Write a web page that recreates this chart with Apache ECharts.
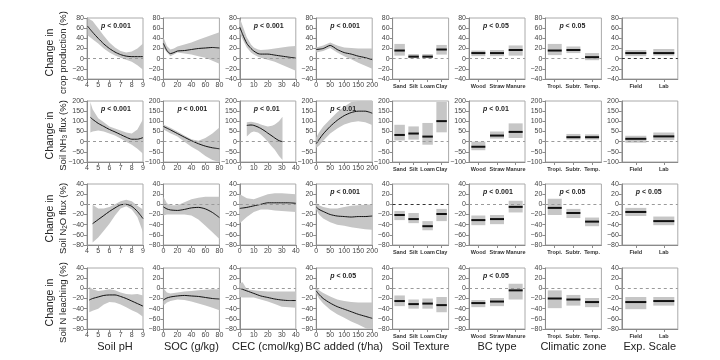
<!DOCTYPE html>
<html><head><meta charset="utf-8">
<script src="https://cdn.jsdelivr.net/npm/echarts@6/dist/echarts.min.js"></script>
<style>html,body{margin:0;padding:0;background:#fff}#c{width:720px;height:360px}</style>
</head><body><div id="c"></div><script>
// ---------- categories / labels ----------
const textureCats = ['Sand','Silt','Loam','Clay'];
const bcTypeCats = ['Wood','Straw','Manure'];
const climateCats = ['Tropi.','Subtr.','Temp.'];
const scaleCats = ['Field','Lab'];
const xNames = ['Soil pH','SOC (g/kg)','CEC (cmol/kg)','BC added (t/ha)','Soil Texture','BC type','Climatic zone','Exp. Scale'];
const rowLabels = ['crop production (%)','Soil NH{s|3} flux (%)','Soil N{s|2}O flux (%)','Soil N leaching (%)'];
const yTicks = [[-40,80,20],[-100,200,50],[-80,40,20],[-80,40,20]];
const pLabels = [
  ['< 0.001','','< 0.001','< 0.001','','< 0.05','< 0.05',''],
  ['< 0.001','< 0.001','< 0.01','< 0.01','','< 0.01','',''],
  ['','','','< 0.001','','< 0.001','< 0.05','< 0.05'],
  ['','','','< 0.05','','< 0.05','','']
];

// ---------- Row 1: crop production ----------
const cropPH_x = [4.05,4.5,5,5.5,6,6.5,7,7.5,8,8.5,9];
const cropPH_mean = [64,52,40,29,20,13,8,5,4,4,4];
const cropPH_lo = [46,38,30,20,12,6,2,-2,-6,-13,-22];
const cropPH_hi = [80,74,60,45,32,22,15,12,14,20,30];
const cropSOC_x = [0,5,10,15,20,30,40,50,60,70,80];
const cropSOC_mean = [30,16,10,12,15,16,18,20,21,22,21];
const cropSOC_lo = [22,12,5,8,12,10,8,5,2,-4,-10];
const cropSOC_hi = [42,25,18,20,24,28,32,37,42,47,52];
const cropCEC_x = [0,2,5,8,10,13,15,20,25,30,35,40];
const cropCEC_mean = [62,48,30,20,15,10,9,9,7,5,3,1];
const cropCEC_lo = [50,38,22,12,8,4,2,-2,-6,-12,-18,-24];
const cropCEC_hi = [80,65,42,28,22,18,17,18,20,22,24,25];
const cropBC_x = [0,25,50,75,100,125,150,175,200];
const cropBC_mean = [18,20,26,18,12,9,5,2,-2];
const cropBC_lo = [12,15,21,12,5,-1,-8,-14,-20];
const cropBC_hi = [22,26,32,26,22,21,20,20,20];
const cropTex_mean = [16,4,4,18], cropTex_lo = [6,1,1,8], cropTex_hi = [29,9,9,27];
const cropBCT_mean = [11,11,17], cropBCT_lo = [5,5,6], cropBCT_hi = [16,17,26];
const cropClim_mean = [16,17,3], cropClim_lo = [7,11,-3], cropClim_hi = [29,24,11];
const cropScale_mean = [11,11], cropScale_lo = [5,6], cropScale_hi = [17,19];

// ---------- Row 2: NH3 flux ----------
const nh3PH_x = [4.3,4.5,5,5.5,6,6.5,7,7.5,8,8.5,9];
const nh3PH_mean = [120,110,90,75,60,48,35,22,12,12,20];
const nh3PH_lo = [45,50,55,50,40,30,15,0,-15,-35,-60];
const nh3PH_hi = [195,160,115,95,75,65,55,45,40,60,110];
const nh3SOC_x = [0,10,20,30,40,50,60,70,80];
const nh3SOC_mean = [75,58,40,22,5,-10,-22,-30,-35];
const nh3SOC_lo = [60,42,25,0,-25,-45,-70,-90,-100];
const nh3SOC_hi = [85,68,50,30,12,5,18,40,70];
const nh3CEC_x = [5,8,10,13,15,18,20,23,25,28,30.5];
const nh3CEC_mean = [80,82,80,72,65,52,42,28,18,5,0];
const nh3CEC_lo = [25,45,50,45,35,15,0,-25,-40,-70,-90];
const nh3CEC_hi = [95,98,95,90,85,78,75,78,85,100,123];
const nh3BC_x = [0,10,25,50,75,100,125,150,175,200];
const nh3BC_mean = [-10,10,38,75,105,128,143,150,150,140];
const nh3BC_lo = [-30,-20,5,40,65,85,95,100,95,82];
const nh3BC_hi = [20,45,75,110,145,172,195,200,200,200];
const nh3Tex_mean = [33,40,25,101], nh3Tex_lo = [6,10,-15,46], nh3Tex_hi = [83,75,92,195];
const nh3BCT_mean = [-25,30,48], nh3BCT_lo = [-42,15,18], nh3BCT_hi = [0,50,90];
const nh3Clim_mean = [null,22,22], nh3Clim_lo = [null,10,10], nh3Clim_hi = [null,38,36];
const nh3Scale_mean = [14,26], nh3Scale_lo = [-5,8], nh3Scale_hi = [29,45];

// ---------- Row 3: N2O flux ----------
const n2oPH_x = [4.5,5,5.5,6,6.5,7,7.5,8,8.5,9];
const n2oPH_mean = [-38,-30,-22,-14,-7,-1,0,-4,-14,-28];
const n2oPH_lo = [-75,-65,-52,-38,-22,-8,-4,-10,-25,-55];
const n2oPH_hi = [-1,-8,-8,-5,0,6,9,6,-3,-10];
const n2oSOC_x = [0,5,10,20,30,40,50,60,70,80];
const n2oSOC_mean = [-5,-9,-11,-12,-10,-7,-6,-9,-16,-26];
const n2oSOC_lo = [-22,-20,-20,-20,-20,-22,-30,-42,-55,-68];
const n2oSOC_hi = [15,2,-2,-2,4,10,13,15,15,15];
const n2oCEC_x = [0,5,10,15,20,25,30,35,40];
const n2oCEC_mean = [-8,-6,-3,0,3,3,3,3,2];
const n2oCEC_lo = [-37,-25,-15,-10,-10,-12,-13,-14,-15];
const n2oCEC_hi = [20,12,10,15,20,22,22,21,20];
const n2oBC_x = [0,10,25,50,75,100,125,150,175,200];
const n2oBC_mean = [-5,-10,-14,-20,-23,-24,-25,-24,-24,-23];
const n2oBC_lo = [-10,-20,-28,-35,-40,-42,-45,-47,-49,-50];
const n2oBC_hi = [3,-2,-5,-8,-8,-5,-3,-2,-1,0];
const n2oTex_mean = [-21,-29,-43,-19], n2oTex_lo = [-31,-37,-51,-33], n2oTex_hi = [-13,-17,-33,-9];
const n2oBCT_mean = [-31,-29,-5], n2oBCT_lo = [-41,-39,-16], n2oBCT_hi = [-22,-21,7];
const n2oClim_mean = [-7,-17,-34], n2oClim_lo = [-21,-27,-43], n2oClim_hi = [11,-9,-26];
const n2oScale_mean = [-15,-33], n2oScale_lo = [-23,-41], n2oScale_hi = [-7,-24];

// ---------- Row 4: N leaching ----------
const lchPH_x = [4.2,4.5,5,5.5,6,6.5,7,7.5,8,8.5,9];
const lchPH_mean = [-23,-20,-17,-14,-13,-13,-16,-20,-25,-30,-35];
const lchPH_lo = [-47,-44,-40,-32,-27,-28,-32,-37,-43,-48,-56];
const lchPH_hi = [3,-2,-5,-4,-2,-4,-8,-11,-12,-11,-14];
const lchSOC_x = [0,5,10,20,30,40,50,60,70,80];
const lchSOC_mean = [-23,-19,-17,-15,-14,-15,-16,-18,-20,-21];
const lchSOC_lo = [-34,-28,-25,-22,-23,-26,-30,-34,-38,-43];
const lchSOC_hi = [0,-8,-10,-8,-6,-5,-4,-3,-2,-2];
const lchCEC_x = [0,2,5,10,15,20,25,30,35,40];
const lchCEC_mean = [0,-2,-5,-10,-15,-18,-21,-23,-24,-24];
const lchCEC_lo = [-17,-18,-18,-18,-22,-26,-31,-36,-37,-38];
const lchCEC_hi = [10,12,-2,-4,-5,-6,-6,-6,-6,-6];
const lchBC_x = [0,10,25,50,75,100,125,150,175,200];
const lchBC_mean = [-5,-12,-20,-29,-36,-41,-46,-51,-55,-59];
const lchBC_lo = [-10,-20,-30,-42,-51,-58,-65,-71,-78,-85];
const lchBC_hi = [2,-4,-9,-16,-22,-25,-27,-28,-28,-28];
const lchTex_mean = [-25,-31,-30,-33], lchTex_lo = [-35,-40,-40,-47], lchTex_hi = [-14,-22,-20,-17];
const lchBCT_mean = [-29,-26,-4], lchBCT_lo = [-37,-35,-22], lchBCT_hi = [-23,-19,9];
const lchClim_mean = [-20,-22,-27], lchClim_lo = [-39,-34,-37], lchClim_hi = [-4,-13,-19];
const lchScale_mean = [-27,-25], lchScale_lo = [-41,-34], lchScale_hi = [-17,-17];

// ---------- assemble ----------
const contData = [
  [[cropPH_x,cropPH_mean,cropPH_lo,cropPH_hi],[cropSOC_x,cropSOC_mean,cropSOC_lo,cropSOC_hi],[cropCEC_x,cropCEC_mean,cropCEC_lo,cropCEC_hi],[cropBC_x,cropBC_mean,cropBC_lo,cropBC_hi]],
  [[nh3PH_x,nh3PH_mean,nh3PH_lo,nh3PH_hi],[nh3SOC_x,nh3SOC_mean,nh3SOC_lo,nh3SOC_hi],[nh3CEC_x,nh3CEC_mean,nh3CEC_lo,nh3CEC_hi],[nh3BC_x,nh3BC_mean,nh3BC_lo,nh3BC_hi]],
  [[n2oPH_x,n2oPH_mean,n2oPH_lo,n2oPH_hi],[n2oSOC_x,n2oSOC_mean,n2oSOC_lo,n2oSOC_hi],[n2oCEC_x,n2oCEC_mean,n2oCEC_lo,n2oCEC_hi],[n2oBC_x,n2oBC_mean,n2oBC_lo,n2oBC_hi]],
  [[lchPH_x,lchPH_mean,lchPH_lo,lchPH_hi],[lchSOC_x,lchSOC_mean,lchSOC_lo,lchSOC_hi],[lchCEC_x,lchCEC_mean,lchCEC_lo,lchCEC_hi],[lchBC_x,lchBC_mean,lchBC_lo,lchBC_hi]]
];
const catData = [
  [[cropTex_mean,cropTex_lo,cropTex_hi],[cropBCT_mean,cropBCT_lo,cropBCT_hi],[cropClim_mean,cropClim_lo,cropClim_hi],[cropScale_mean,cropScale_lo,cropScale_hi]],
  [[nh3Tex_mean,nh3Tex_lo,nh3Tex_hi],[nh3BCT_mean,nh3BCT_lo,nh3BCT_hi],[nh3Clim_mean,nh3Clim_lo,nh3Clim_hi],[nh3Scale_mean,nh3Scale_lo,nh3Scale_hi]],
  [[n2oTex_mean,n2oTex_lo,n2oTex_hi],[n2oBCT_mean,n2oBCT_lo,n2oBCT_hi],[n2oClim_mean,n2oClim_lo,n2oClim_hi],[n2oScale_mean,n2oScale_lo,n2oScale_hi]],
  [[lchTex_mean,lchTex_lo,lchTex_hi],[lchBCT_mean,lchBCT_lo,lchBCT_hi],[lchClim_mean,lchClim_lo,lchClim_hi],[lchScale_mean,lchScale_lo,lchScale_hi]]
];
const catLists = [textureCats, bcTypeCats, climateCats, scaleCats];
const contAxes = [[4,9,1],[0,80,20],[0,40,10],[0,200,50]];

const FONT = '"Liberation Sans", Arial, sans-serif';
const colLeft = i => 87 + 76.4 * i;
const rowTop = [18, 101, 184, 268];
const PW = 56, PH = 61;
const AX = '#8a8a8a';
const BAND = '#c6c6c6';
const minus = v => v < 0 ? '\u2212' + (-v) : '' + v;
const zeroLine = (col) => ({
  silent: true, symbol: ['none','none'], label: {show: false},
  lineStyle: {type: [3,3], color: col, width: 1}, emphasis: {disabled: true},
  data: [{yAxis: 0}]
});

const grid = [], xAxis = [], yAxis = [], series = [], graphic = [];
for (let r = 0; r < 4; r++) {
  for (let c = 0; c < 8; c++) {
    const gi = r * 8 + c;
    grid.push({left: colLeft(c), top: rowTop[r], width: PW, height: PH, show: true, borderColor: '#aaaaaa', borderWidth: 1, containLabel: false});
    const common = {
      gridIndex: gi,
      axisLine: {show: true, onZero: false, lineStyle: {color: AX, width: 1}},
      axisTick: {show: true, length: 3, lineStyle: {color: AX}},
      splitLine: {show: false}
    };
    if (c < 4) {
      const a = contAxes[c];
      xAxis.push(Object.assign({}, common, {type: 'value', min: a[0], max: a[1], interval: a[2],
        axisLabel: {fontSize: 7, color: '#444', margin: 3, fontFamily: FONT}}));
    } else {
      xAxis.push(Object.assign({}, common, {type: 'category', data: catLists[c - 4],
        axisTick: {show: true, length: 3, alignWithLabel: true, lineStyle: {color: AX}},
        axisLabel: {interval: 0, fontSize: 5.5, fontWeight: 'bold', color: '#333', margin: 4, fontFamily: FONT}}));
    }
    const y = yTicks[r];
    yAxis.push(Object.assign({}, common, {type: 'value', min: y[0], max: y[1], interval: y[2],
      axisLabel: {fontSize: 7, color: '#444', margin: 3, formatter: minus, fontFamily: FONT}}));

    if (c < 4) {
      const [xs, mean, lo, hi] = contData[r][c];
      const bandRows = xs.map((x, i) => [x, lo[i], hi[i]]);
      series.push({type: 'custom', xAxisIndex: gi, yAxisIndex: gi, data: bandRows, silent: true, animation: false,
        clip: true, encode: {x: 0, y: [1, 2]}, z: 1,
        renderItem: function (params, api) {
          if (params.dataIndex !== 0) return null;
          const up = bandRows.map(d => api.coord([d[0], d[2]]));
          const dn = bandRows.map(d => api.coord([d[0], d[1]])).reverse();
          return {type: 'polygon', shape: {points: up.concat(dn)}, style: {fill: BAND, stroke: null}};
        }});
      series.push({type: 'line', xAxisIndex: gi, yAxisIndex: gi,
        data: xs.map((x, i) => [x, mean[i]]), symbol: 'none', smooth: 0.25, silent: true,
        lineStyle: {color: '#111', width: 1}, animation: false, z: 3,
        markLine: zeroLine('#9a9a9a')});
    } else {
      const [mean, lo, hi] = catData[r][c - 4];
      const data = [];
      mean.forEach((m, i) => { if (m !== null) data.push([i, lo[i], hi[i], m]); });
      const dark = (r === 0 && c === 7) || (r === 2 && c === 4);
      series.push({type: 'custom', xAxisIndex: gi, yAxisIndex: gi, data: data, silent: true, animation: false,
        encode: {x: 0, y: [1, 2, 3]},
        renderItem: function (params, api) {
          const ci = api.value(0);
          const pTop = api.coord([ci, api.value(2)]);
          const pBot = api.coord([ci, api.value(1)]);
          const pM = api.coord([ci, api.value(3)]);
          const bw = api.size([1, 0])[0] * 0.75;
          return {type: 'group', children: [
            {type: 'rect', shape: {x: pTop[0] - bw / 2, y: pTop[1], width: bw, height: pBot[1] - pTop[1]}, style: {fill: BAND}},
            {type: 'line', shape: {x1: pM[0] - bw / 2, y1: pM[1], x2: pM[0] + bw / 2, y2: pM[1]}, style: {stroke: '#111', lineWidth: 2}}
          ]};
        },
        markLine: zeroLine(dark ? '#333' : '#9a9a9a')});
    }
    if (pLabels[r][c]) {
      graphic.push({type: 'text', left: colLeft(c) + PW / 2 - 14, top: rowTop[r] + 5, silent: true, z: 100,
        style: {text: '{i|p} ' + pLabels[r][c], fontSize: 7, fontWeight: 'bold', fill: '#222', fontFamily: FONT,
          rich: {i: {fontStyle: 'italic', fontWeight: 'bold', fontSize: 7, fill: '#222', fontFamily: FONT}}}});
    }
  }
  const cy = rowTop[r] + PH / 2 + 4;
  graphic.push({type: 'text', x: 50, y: cy, rotation: Math.PI / 2, silent: true,
    style: {text: 'Change in', fontSize: 10.5, fill: '#222', fontFamily: FONT, align: 'center', verticalAlign: 'middle'}});
  graphic.push({type: 'text', x: 63, y: cy, rotation: Math.PI / 2, silent: true,
    style: {text: rowLabels[r], fontSize: 9.5, fill: '#222', fontFamily: FONT, align: 'center', verticalAlign: 'middle',
      rich: {s: {fontSize: 6.5, verticalAlign: 'bottom', padding: [4, 0, 0, 0], fill: '#222', fontFamily: FONT}}}});
}
xNames.forEach((t, c) => {
  graphic.push({type: 'text', x: colLeft(c) + PW / 2, y: 347, silent: true,
    style: {text: t, fontSize: 11, fill: '#222', fontFamily: FONT, align: 'center', verticalAlign: 'middle'}});
});

const chart = echarts.init(document.getElementById('c'), null, {renderer: 'canvas'});
chart.setOption({animation: false, backgroundColor: '#fff', grid, xAxis, yAxis, series, graphic,
  textStyle: {fontFamily: FONT}});
</script></body></html>
